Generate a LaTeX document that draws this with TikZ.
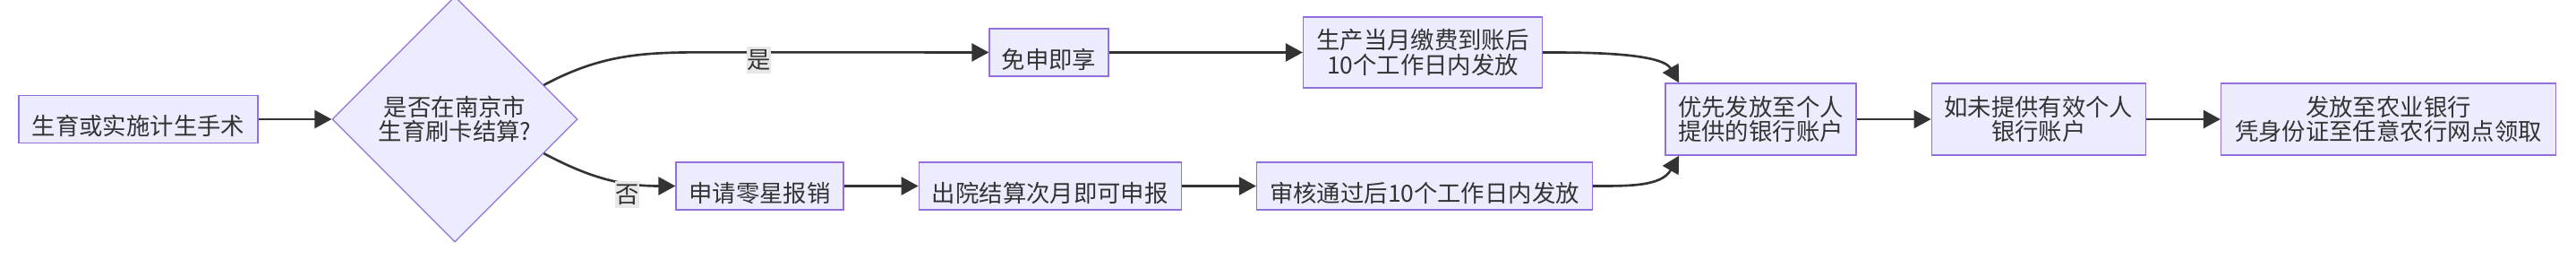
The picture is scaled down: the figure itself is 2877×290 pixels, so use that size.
\documentclass[tikz,border=0pt]{standalone}
\usepackage{fontspec}
\newfontfamily\cjkfont{Noto Sans CJK SC}
\usepackage{xcolor}
\usetikzlibrary{shapes.geometric,arrows.meta,positioning}

\definecolor{nodefill}{HTML}{ECECFF}
\definecolor{nodeline}{HTML}{9370DB}
\definecolor{edgeline}{HTML}{333333}
\definecolor{lblfill}{HTML}{E8E8E8}
\newcommand{\flowfont}{\cjkfont\fontsize{15pt}{15.4pt}\selectfont}

\begin{document}
\begin{tikzpicture}[
  x=0.02cm, y=0.02cm,
  box/.style={draw=nodeline, fill=nodefill, line width=0.75pt, text=edgeline, font=\flowfont, align=center, inner sep=2pt, minimum height=1.06cm},
  onebox/.style={box, text height=22.4pt, text depth=2pt},
  twobox/.style={box, minimum height=1.6cm},
  choice/.style={diamond, aspect=1, draw=nodeline, fill=nodefill, line width=0.75pt, text=edgeline, font=\flowfont, align=center, inner sep=0pt, minimum width=5.48cm, minimum height=5.48cm},
  flow/.style={draw=edgeline, line width=1.5pt, -{Triangle[length=0.38cm, width=0.4cm]}},
  elbl/.style={fill=lblfill, text=edgeline, font=\flowfont, inner sep=0pt, minimum width=0.54cm, minimum height=0.6cm},
]

\def\rowsep{74.5}
\def\gap{1.66cm}

\useasboundingbox (0,-157) rectangle (2877,133);

% --- start and decision ---
\node[onebox, minimum width=5.34cm] (sz) at (154.5,0) {生育或实施计生手术};
\node[choice] (dia) at (508,0) {是否在南京市\\生育刷卡结算?};

% --- yes branch ---
\node[onebox, minimum width=2.66cm] (mian) at (1171.5,\rowsep) {免申即享};
\node[twobox, minimum width=5.34cm, minimum height=1.58cm] (chan) at (1589,\rowsep) {生产当月缴费到账后\\10个工作日内发放};

% --- no branch ---
\node[onebox, minimum width=3.74cm] (lx) at (848.5,-\rowsep) {申请零星报销};
\node[onebox, minimum width=5.86cm, right=\gap of lx] (cy) {出院结算次月即可申报};
\node[onebox, minimum width=7.5cm, right=\gap of cy] (sh) {审核通过后10个工作日内发放};

% --- payout ---
\node[twobox, minimum width=4.26cm] (yx) at (1966.5,0) {优先发放至个人\\提供的银行账户};
\node[twobox, minimum width=4.78cm, right=\gap of yx] (rw) {如未提供有效个人\\银行账户};
\node[twobox, minimum width=7.48cm, right=\gap of rw] (ff) {发放至农业银行\\凭身份证至任意农行网点领取};

% --- edges ---
\draw[flow] (sz) -- (dia);
\draw[flow] (dia.21) to[out=28, in=180] ++(180,36.5) -- (mian) node[elbl, pos=0.19, yshift=-0.18cm] {是};
\draw[flow] (dia.-21) to[out=-28, in=180] node[elbl, pos=0.66, anchor=north, yshift=0.06cm] {否} (lx);
\draw[flow] (mian) -- (chan);
\draw[flow] (chan.east) to[out=0, in=120, looseness=0.65] (yx.156);
\draw[flow] (lx) -- (cy);
\draw[flow] (cy) -- (sh);
\draw[flow] (sh.east) to[out=0, in=-120] (yx.204);
\draw[flow] (yx) -- (rw);
\draw[flow] (rw) -- (ff);

\end{tikzpicture}
\end{document}
